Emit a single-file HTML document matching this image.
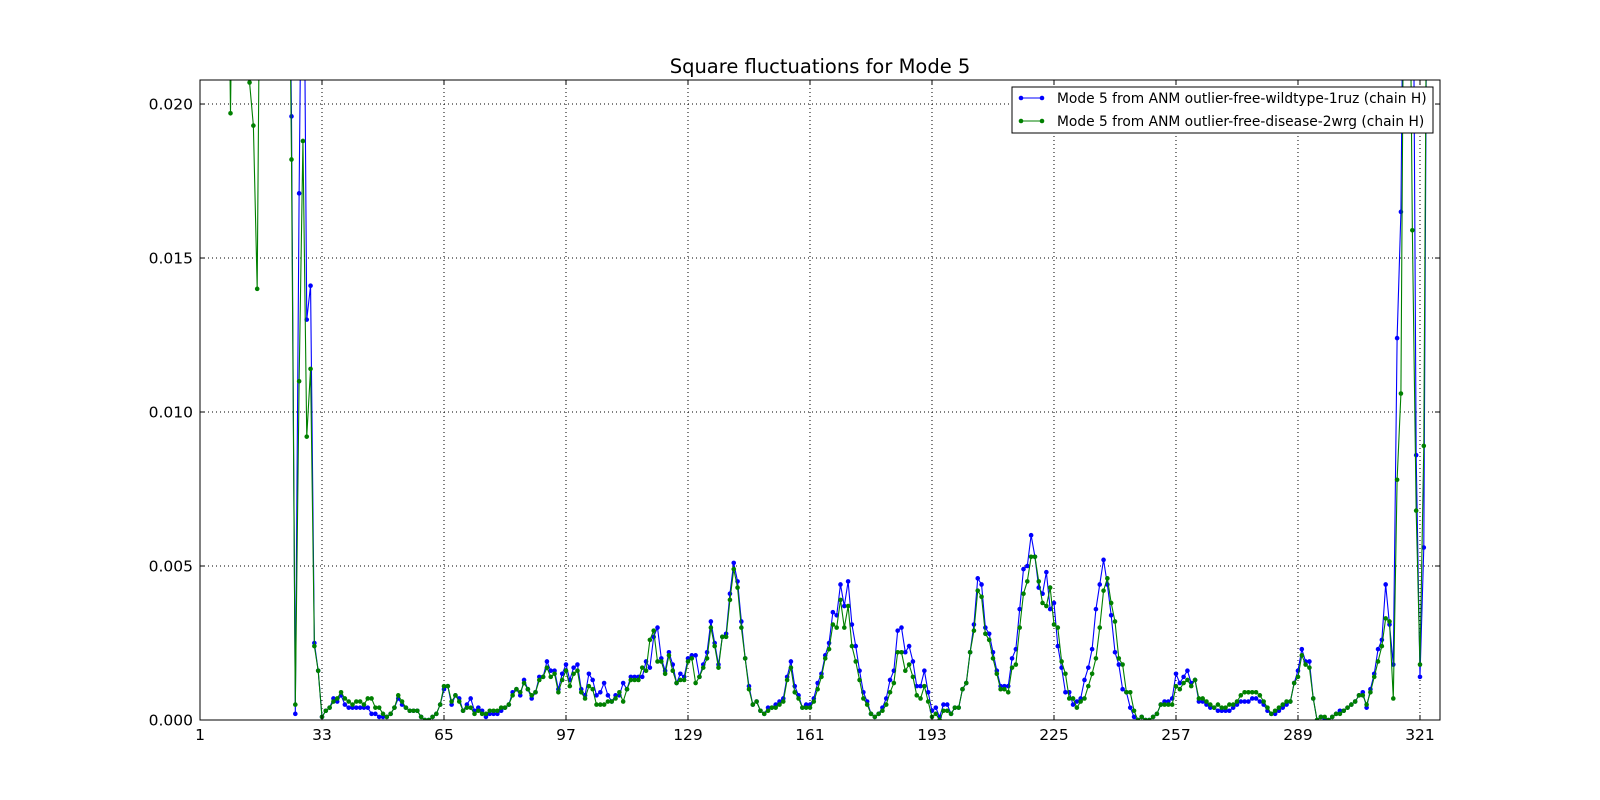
<!DOCTYPE html>
<html><head><meta charset="utf-8">
<style>
html,body{margin:0;padding:0;background:#fff;}
svg{display:block;font-family:"DejaVu Sans","Liberation Sans",sans-serif;}
</style></head>
<body>
<svg id="chart" width="1600" height="800" viewBox="0 0 1600 800" xmlns="http://www.w3.org/2000/svg">
<rect x="0" y="0" width="1600" height="800" fill="#fff"/>
<text x="820" y="73" text-anchor="middle" font-size="19.5" fill="#000">Square fluctuations for Mode 5</text>
<defs><clipPath id="plotclip"><rect x="200" y="80" width="1240" height="640"/></clipPath></defs>
<g id="grid"></g>
<g id="series" clip-path="url(#plotclip)"></g>
<rect x="200" y="80" width="1240" height="640" fill="none" stroke="#000" stroke-width="1"/>
<g id="axes"></g>
<g id="legend">
  <rect x="1012" y="87" width="421" height="46" fill="#fff" stroke="#000" stroke-width="1"/>
  <line x1="1020" y1="98" x2="1043" y2="98" stroke="#0000ff" stroke-width="1"/>
  <circle cx="1021" cy="98" r="2.3" fill="#0000ff"/>
  <circle cx="1042" cy="98" r="2.3" fill="#0000ff"/>
  <text x="1057" y="103" font-size="13.8">Mode 5 from ANM outlier-free-wildtype-1ruz (chain H)</text>
  <line x1="1020" y1="121" x2="1043" y2="121" stroke="#008000" stroke-width="1"/>
  <circle cx="1021" cy="121" r="2.3" fill="#008000"/>
  <circle cx="1042" cy="121" r="2.3" fill="#008000"/>
  <text x="1057" y="126" font-size="13.8">Mode 5 from ANM outlier-free-disease-2wrg (chain H)</text>
</g>
</svg>
<script>
const xTicks = [1,33,65,97,129,161,193,225,257,289,321];
const yTicks = [0,0.005,0.010,0.015,0.020];
const yTickLabels = ["0.000","0.005","0.010","0.015","0.020"];
const HI = 0.03;
const blueValues = [
HI,HI,HI,HI,HI,HI,HI,HI,HI,HI, HI,HI,HI,HI,HI,HI,HI,HI,HI,HI,
HI,HI,HI,HI,0.0196,0.0002,0.0171,HI,0.0130,0.0141,0.0025,
0.0016,0.0001,0.0003,0.0004,0.0007,0.0006,0.0008,0.0005,0.0004,0.0004,
0.0004,0.0004,0.0004,0.0004,0.0002,0.0002,0.0001,0.0001,0.0001,0.0002,
0.0004,0.0007,0.0005,0.0004,0.0003,0.0003,0.0003,0.0001,0.0000,0.0000,
0.0001,0.0002,0.0005,0.0010,0.0011,0.0005,0.0008,0.0007,0.0003,0.0005,
0.0007,0.0003,0.0004,0.0003,0.0001,0.0002,0.0002,0.0002,0.0003,0.0004,
0.0005,0.0009,0.0010,0.0008,0.0013,0.0010,0.0007,0.0009,0.0014,0.0014,
0.0019,0.0016,0.0016,0.0010,0.0015,0.0018,0.0013,0.0017,0.0018,0.0010,
0.0008,0.0015,0.0013,0.0008,0.0009,0.0012,0.0008,0.0006,0.0008,0.0008,
0.0012,0.0010,0.0014,0.0014,0.0014,0.0014,0.0019,0.0017,0.0027,0.0030,
0.0020,0.0016,0.0022,0.0018,0.0012,0.0015,0.0014,0.0020,0.0021,0.0021,
0.0014,0.0018,0.0022,0.0032,0.0025,0.0018,0.0027,0.0028,0.0041,0.0051,
0.0045,0.0032,0.0020,0.0011,0.0005,0.0006,0.0003,0.0002,0.0004,0.0004,
0.0005,0.0006,0.0007,0.0014,0.0019,0.0011,0.0008,0.0004,0.0005,0.0005,
0.0007,0.0012,0.0015,0.0021,0.0025,0.0035,0.0034,0.0044,0.0037,0.0045,
0.0031,0.0024,0.0016,0.0009,0.0006,0.0002,0.0001,0.0002,0.0004,0.0007,
0.0013,0.0016,0.0029,0.0030,0.0022,0.0024,0.0019,0.0011,0.0011,0.0016,
0.0009,0.0003,0.0004,0.0001,0.0005,0.0005,0.0002,0.0004,0.0004,0.0010,
0.0012,0.0022,0.0031,0.0046,0.0044,0.0030,0.0028,0.0022,0.0016,0.0011,
0.0011,0.0011,0.0020,0.0023,0.0036,0.0049,0.0050,0.0060,0.0053,0.0043,
0.0041,0.0048,0.0036,0.0038,0.0024,0.0017,0.0009,0.0009,0.0005,0.0006,
0.0007,0.0013,0.0017,0.0023,0.0036,0.0044,0.0052,0.0044,0.0034,0.0022,
0.0018,0.0010,0.0009,0.0004,0.0001,0.0000,0.0001,0.0000,0.0000,0.0001,
0.0002,0.0005,0.0006,0.0006,0.0007,0.0015,0.0012,0.0014,0.0016,0.0012,
0.0013,0.0006,0.0006,0.0005,0.0004,0.0004,0.0003,0.0003,0.0003,0.0003,
0.0004,0.0005,0.0006,0.0006,0.0006,0.0007,0.0007,0.0006,0.0005,0.0003,
0.0002,0.0002,0.0003,0.0004,0.0005,0.0006,0.0012,0.0016,0.0023,0.0019,
0.0019,0.0007,0.0000,0.0001,0.0000,0.0000,0.0001,0.0002,0.0003,0.0003,
0.0004,0.0005,0.0006,0.0008,0.0009,0.0004,0.0010,0.0015,0.0023,0.0026,
0.0044,0.0031,0.0018,0.0124,0.0165,HI,HI,HI,0.0086,0.0014,0.0056,
HI
];
const greenValues = [
HI,HI,HI,HI,HI,HI,HI,HI,0.0197,HI, HI,HI,HI,0.0207,0.0193,0.0140,HI,HI,HI,HI,
HI,HI,HI,HI,0.0182,0.0005,0.0110,0.0188,0.0092,0.0114,0.0024,
0.0016,0.0001,0.0003,0.0004,0.0006,0.0007,0.0009,0.0007,0.0006,0.0005,
0.0006,0.0006,0.0005,0.0007,0.0007,0.0004,0.0004,0.0002,0.0001,0.0002,
0.0004,0.0008,0.0006,0.0004,0.0003,0.0003,0.0003,0.0001,0.0000,0.0000,
0.0001,0.0002,0.0005,0.0011,0.0011,0.0006,0.0008,0.0006,0.0003,0.0004,
0.0004,0.0002,0.0003,0.0002,0.0002,0.0003,0.0003,0.0003,0.0004,0.0004,
0.0005,0.0008,0.0010,0.0009,0.0012,0.0010,0.0008,0.0009,0.0013,0.0014,
0.0017,0.0014,0.0015,0.0009,0.0013,0.0016,0.0011,0.0015,0.0016,0.0009,
0.0007,0.0011,0.0010,0.0005,0.0005,0.0005,0.0006,0.0006,0.0007,0.0009,
0.0006,0.0010,0.0013,0.0013,0.0013,0.0017,0.0016,0.0026,0.0029,0.0019,
0.0019,0.0015,0.0021,0.0016,0.0012,0.0013,0.0013,0.0019,0.0020,0.0012,
0.0014,0.0017,0.0020,0.0030,0.0024,0.0017,0.0027,0.0027,0.0039,0.0049,
0.0043,0.0030,0.0020,0.0010,0.0005,0.0006,0.0003,0.0002,0.0003,0.0004,
0.0004,0.0005,0.0006,0.0013,0.0017,0.0009,0.0007,0.0004,0.0004,0.0004,
0.0006,0.0010,0.0014,0.0020,0.0023,0.0031,0.0030,0.0039,0.0030,0.0037,
0.0024,0.0019,0.0013,0.0007,0.0005,0.0002,0.0001,0.0002,0.0003,0.0005,
0.0009,0.0012,0.0022,0.0022,0.0016,0.0018,0.0014,0.0008,0.0007,0.0011,
0.0006,0.0001,0.0002,0.0000,0.0003,0.0003,0.0002,0.0004,0.0004,0.0010,
0.0012,0.0022,0.0029,0.0042,0.0040,0.0028,0.0026,0.0020,0.0015,0.0010,
0.0010,0.0009,0.0017,0.0018,0.0030,0.0041,0.0045,0.0053,0.0053,0.0045,
0.0038,0.0037,0.0043,0.0031,0.0030,0.0019,0.0015,0.0007,0.0007,0.0004,
0.0006,0.0007,0.0011,0.0015,0.0020,0.0030,0.0042,0.0046,0.0038,0.0032,
0.0020,0.0018,0.0009,0.0009,0.0003,0.0000,0.0001,0.0000,0.0000,0.0001,
0.0002,0.0005,0.0005,0.0005,0.0005,0.0011,0.0010,0.0012,0.0013,0.0011,
0.0013,0.0007,0.0007,0.0006,0.0005,0.0004,0.0005,0.0004,0.0004,0.0005,
0.0005,0.0006,0.0008,0.0009,0.0009,0.0009,0.0009,0.0008,0.0006,0.0004,
0.0002,0.0003,0.0004,0.0005,0.0006,0.0006,0.0012,0.0014,0.0021,0.0018,
0.0017,0.0007,0.0000,0.0001,0.0001,0.0000,0.0001,0.0002,0.0002,0.0003,
0.0004,0.0005,0.0006,0.0008,0.0008,0.0005,0.0009,0.0014,0.0019,0.0024,
0.0033,0.0032,0.0007,0.0078,0.0106,HI,HI,0.0159,0.0068,0.0018,0.0089,
HI
];

const X0=200, X1=1440, Y0=720, Y1=80;
const XMIN=1, XMAX=326.25, YMIN=0, YMAX=0.02078;
function xs(v){return X0+(v-XMIN)/(XMAX-XMIN)*(X1-X0);}
function ys(v){return Y0-(v-YMIN)/(YMAX-YMIN)*(Y0-Y1);}
const NS="http://www.w3.org/2000/svg";
function mk(tag,attrs,parent){const e=document.createElementNS(NS,tag);for(const k in attrs)e.setAttribute(k,attrs[k]);parent.appendChild(e);return e;}

const grid=document.getElementById('grid');
const axes=document.getElementById('axes');
xTicks.forEach((t,i)=>{
  const x=xs(t);
  if(i>0){
    const g=mk('line',{x1:x,y1:Y1,x2:x,y2:Y0,stroke:'#000','stroke-width':1,'stroke-dasharray':'1,3'},grid);
    
    
  }
  const t1=mk('line',{x1:x,y1:Y0,x2:x,y2:Y0-5,stroke:'#000','stroke-width':1},axes);
  
  
  const t2=mk('line',{x1:x,y1:Y1,x2:x,y2:Y1+5,stroke:'#000','stroke-width':1},axes);
  
  
  const lb=mk('text',{x:x,y:Y0+20,'text-anchor':'middle','font-size':15.5,fill:'#000'},axes);
  lb.textContent=String(t);
  
  
});
yTicks.forEach((t,i)=>{
  const y=ys(t);
  if(i>0){
    const g=mk('line',{x1:X0,y1:y,x2:X1,y2:y,stroke:'#000','stroke-width':1,'stroke-dasharray':'1,3'},grid);
    
    
  }
  const t1=mk('line',{x1:X0,y1:y,x2:X0+5,y2:y,stroke:'#000','stroke-width':1},axes);
  
  
  const t2=mk('line',{x1:X1,y1:y,x2:X1-5,y2:y,stroke:'#000','stroke-width':1},axes);
  
  
  const lb=mk('text',{x:X0-7,y:y+5.5,'text-anchor':'end','font-size':15.5,fill:'#000'},axes);
  lb.textContent=yTickLabels[i];
  
  
});

const seriesG=document.getElementById('series');
function drawSeries(vals,color,name){
  const pts=vals.map((v,i)=>xs(i+1).toFixed(2)+','+ys(v).toFixed(2)).join(' ');
  const pl=mk('polyline',{points:pts,fill:'none',stroke:color,'stroke-width':1.1,'stroke-linejoin':'round'},seriesG);
  
  
  vals.forEach((v,i)=>{
    const c=mk('circle',{cx:xs(i+1),cy:ys(v),r:2.3,fill:color},seriesG);
    
    
  });
}
drawSeries(blueValues,'#0000ff','wildtype-series');
drawSeries(greenValues,'#008000','disease-series');
</script>
</body></html>
